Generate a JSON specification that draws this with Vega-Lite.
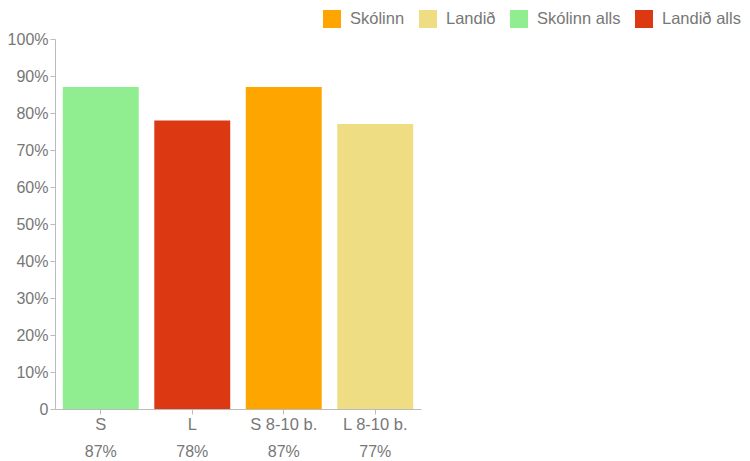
{
  "$schema": "https://vega.github.io/schema/vega-lite/v6.json",
  "autosize": {"type": "none"},
  "padding": {"left": 55, "top": 39, "right": 329, "bottom": 52},
  "width": 366,
  "height": 370,
  "background": "white",
  "config": {
    "font": "Liberation Sans",
    "view": {"stroke": null}
  },
  "data": {
    "values": [
      {"cat": "S", "series": "Skólinn alls", "value": 0.87},
      {"cat": "L", "series": "Landið alls", "value": 0.78},
      {"cat": "S 8-10 b.", "series": "Skólinn", "value": 0.87},
      {"cat": "L 8-10 b.", "series": "Landið", "value": 0.77}
    ]
  },
  "encoding": {
    "x": {
      "field": "cat",
      "type": "nominal",
      "sort": null,
      "scale": {"paddingInner": 0.17, "paddingOuter": 0.085},
      "axis": {
        "title": null,
        "labelAngle": 0,
        "labelFontSize": 16.5,
        "labelColor": "#777777",
        "domainColor": "#bbbbbb",
        "tickColor": "#bbbbbb",
        "tickSize": 5,
        "labelPadding": 2
      }
    },
    "y": {
      "field": "value",
      "type": "quantitative",
      "scale": {"domain": [0, 1], "nice": false},
      "axis": {
        "title": null,
        "values": [0, 0.1, 0.2, 0.3, 0.4, 0.5, 0.6, 0.7, 0.8, 0.9, 1],
        "labelExpr": "datum.value == 0 ? '0' : format(datum.value, '.0%')",
        "labelOverlap": false,
        "labelFlush": false,
        "grid": false,
        "labelFontSize": 16,
        "labelColor": "#777777",
        "domainColor": "#bbbbbb",
        "tickColor": "#bbbbbb",
        "tickSize": 5,
        "labelPadding": 2
      }
    }
  },
  "layer": [
    {
      "mark": {"type": "bar"},
      "encoding": {
        "color": {
          "field": "series",
          "type": "nominal",
          "scale": {
            "domain": ["Skólinn", "Landið", "Skólinn alls", "Landið alls"],
            "range": ["#FFA500", "#EEDD82", "#90EE90", "#DC3912"]
          },
          "legend": {
            "title": null,
            "orient": "none",
            "direction": "horizontal",
            "legendX": 268,
            "legendY": -29,
            "symbolType": "square",
            "symbolSize": 324,
            "symbolStrokeWidth": 0,
            "symbolOpacity": 1,
            "labelFontSize": 16.5,
            "labelColor": "#777777",
            "labelOffset": 9,
            "columnPadding": 14
          }
        }
      }
    },
    {
      "mark": {"type": "text", "dy": 43, "fontSize": 16, "color": "#777777", "baseline": "middle"},
      "encoding": {
        "y": {"datum": 0, "type": "quantitative"},
        "text": {"field": "value", "type": "quantitative", "format": ".0%"}
      }
    }
  ]
}
